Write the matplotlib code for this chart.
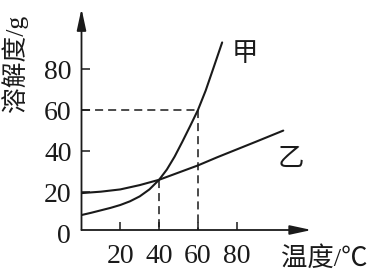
import matplotlib
matplotlib.use("Agg")
import matplotlib.pyplot as plt

# ---- data ----
jia_x = [0, 5, 10, 15, 20, 25, 30, 35, 40, 44, 48, 52, 56, 60, 64, 68, 72.5]
jia_y = [8.8, 9.9, 11.1, 12.3, 13.7, 15.5, 17.9, 21.3, 26, 31, 37.3, 44.6, 52.2, 60, 69.5, 80.5, 93]

yi_x = [0, 10, 20, 30, 40, 50, 60, 70, 80, 90, 104]
yi_y = [19.5, 20.2, 21.3, 23.4, 26, 29.5, 33, 37, 40.8, 44.6, 50]

x_ticks = [20, 40, 60, 80]
y_ticks = [20, 40, 60, 80]
cross_point = (40, 26)
jia_60 = (60, 60)

plt.rcParams['lines.scale_dashes'] = False
SERIF = ['Liberation Serif', 'Noto Sans CJK SC']
CJK = ['Noto Sans CJK SC', 'DejaVu Sans']
INK = '#1a1a1a'

fig = plt.figure(figsize=(3.76, 2.76), dpi=100)
ax = fig.add_axes([81.5 / 376, 46 / 276, 232.8 / 376, 222.4 / 276])
ax.set_xlim(0, 120)
ax.set_ylim(1.5, 110)
for s in ax.spines.values():
    s.set_visible(False)

# axes with arrows
arrow = dict(arrowstyle='-|>,head_length=1.3,head_width=0.28', color=INK, lw=1.3,
             shrinkA=0, shrinkB=0)
ax.annotate('', xy=(118.6, 1.5), xytext=(0, 1.5), arrowprops=arrow, annotation_clip=False)
ax.annotate('', xy=(0, 109.5), xytext=(0, 1.5), arrowprops=arrow, annotation_clip=False)

# ticks
ax.set_xticks(x_ticks)
ax.set_xticklabels([str(v) for v in x_ticks], family=SERIF, fontsize=20)
ax.set_yticks(y_ticks)
ax.set_yticklabels([str(v) for v in y_ticks], family=SERIF, fontsize=20)
ax.tick_params(axis='x', direction='in', length=6, width=1.1, color=INK, pad=10, labelcolor=INK)
ax.tick_params(axis='y', direction='in', length=5.5, width=1.1, color=INK, pad=7, labelcolor=INK)
ax.text(-9, -1.5, '0', family=SERIF, fontsize=20, ha='center', va='center', color=INK, clip_on=False)

# dashed guides
dash = dict(color=INK, lw=1.1, dashes=(5.8, 3.6))
ax.plot([0, jia_60[0]], [jia_60[1], jia_60[1]], **dash)
ax.plot([jia_60[0], jia_60[0]], [jia_60[1], 1.5], **dash)
ax.plot([cross_point[0], cross_point[0]], [cross_point[1], 1.5], **dash)

# curves
ax.plot(jia_x, jia_y, color=INK, lw=1.5, solid_capstyle='round', solid_joinstyle='round')
ax.plot(yi_x, yi_y, color=INK, lw=1.5, solid_capstyle='round', solid_joinstyle='round')

ax.text(84.3, 87.7, '甲', family=CJK, fontsize=19, ha='center', va='center', color=INK)
ax.text(108, 36.4, '乙', family=CJK, fontsize=19, ha='center', va='center', color=INK)

fig.text(15 / 376, 1 - 63 / 276, '溶解度/g', family=SERIF, fontsize=18.5, rotation=90,
         ha='center', va='center', color=INK)
fig.text(324 / 376, 1 - 259 / 276, '温度/℃', family=SERIF, fontsize=19,
         ha='center', va='center', color=INK)

fig.savefig('out.png', dpi=100, facecolor='white')
